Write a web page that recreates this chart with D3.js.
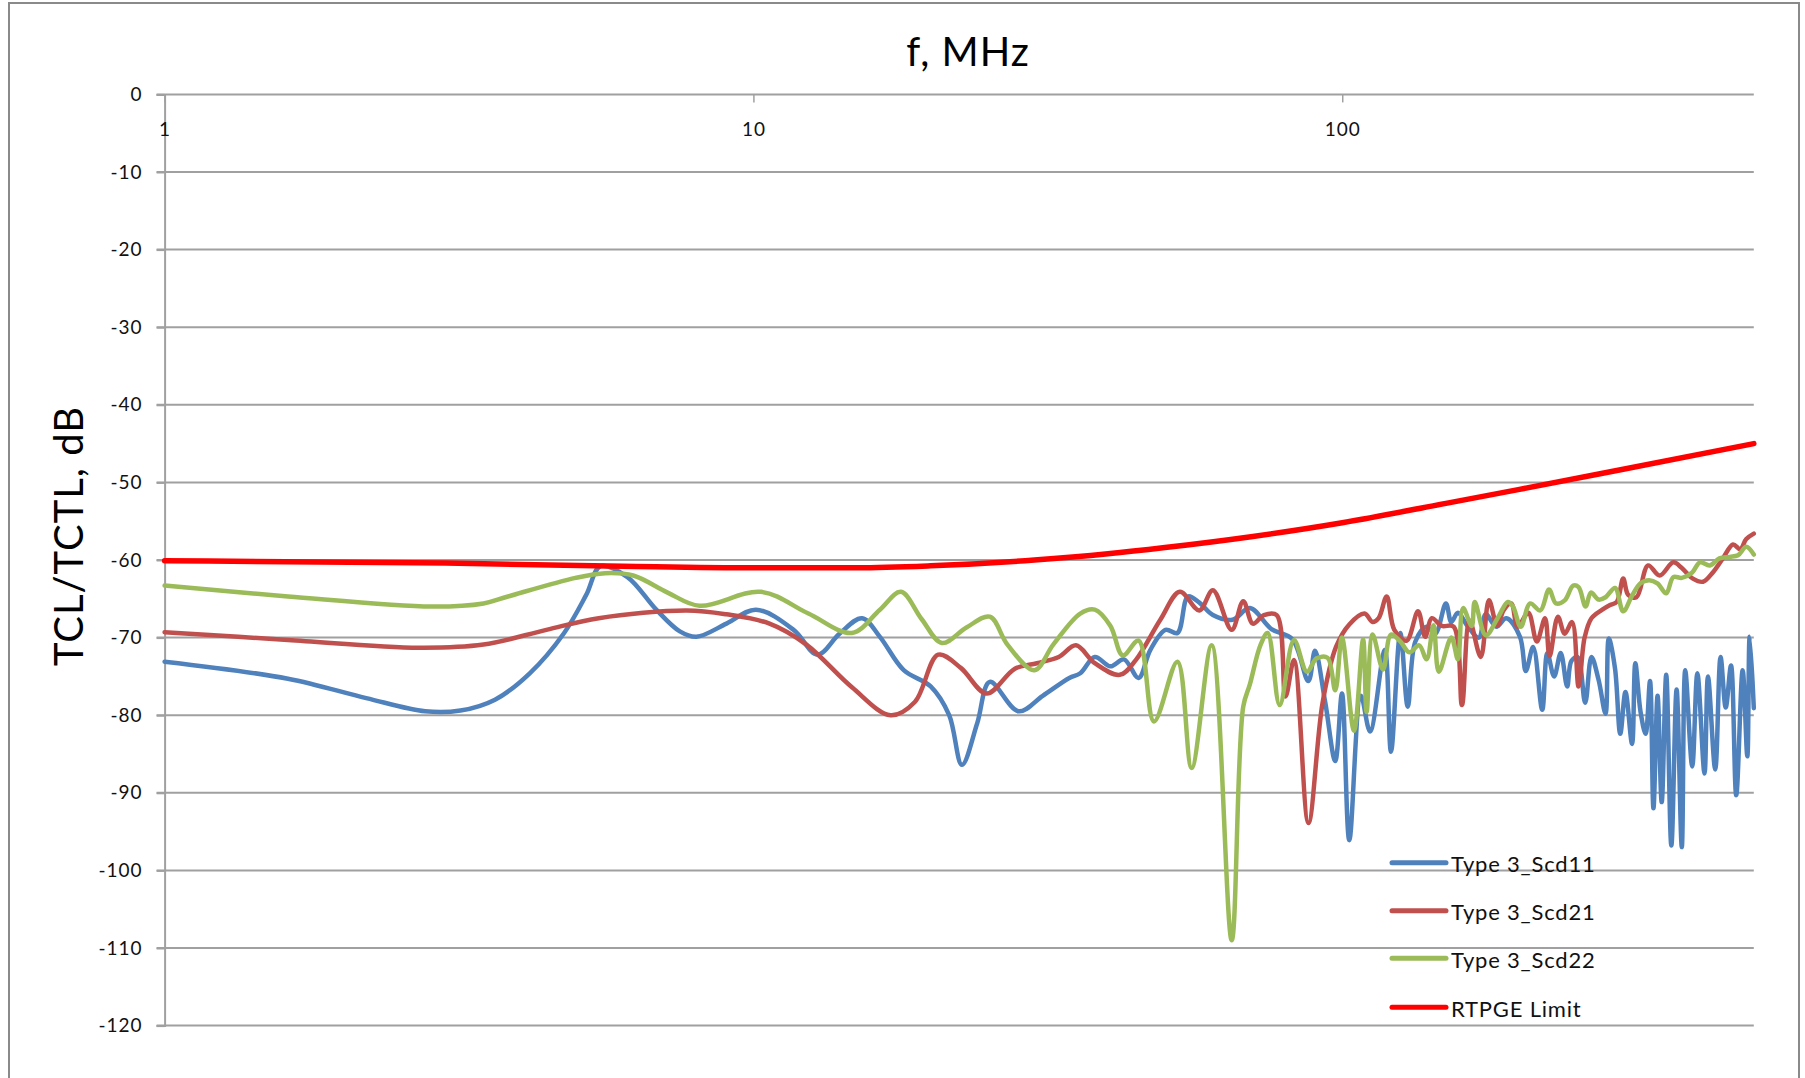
<!DOCTYPE html>
<html>
<head>
<meta charset="utf-8">
<script src="https://cdn.jsdelivr.net/npm/d3@7"></script>
<style>
  body { margin: 0; background: #fff; }
  svg { display: block; font-family: Lato, "Liberation Sans", sans-serif; }
</style>
</head>
<body>
<div id="wrapper"></div>
<script>
const width = 1805,
    height = 1078;

// frequency (MHz) and level (dB)
const scd11F = [1, 1.62, 2.2, 2.77, 3.18, 3.64, 4.17, 4.77, 5.2, 5.5, 6.11, 6.84, 7.5, 8.0, 9.0, 10.1, 11.7, 12.85, 14.0, 15.3, 16.4, 18.0, 20.0, 21.5, 22.6, 24.0, 25.2, 28.2, 31, 34.4, 35.9, 38.0, 40.4, 42.6, 45.1, 47.2, 50.1, 52.5, 54.7, 57.2, 60.3, 65.1, 69.7, 75.8, 82.3, 87.6, 89.9, 93.5, 97.3, 99.9, 102.8, 107.6, 111.5, 118.1, 121.0, 125.5, 129.2, 133.1, 139.1, 143.9, 150.0, 153.2, 157.2, 163.5, 170.6, 175.3, 182.6, 190.0, 200.4, 205, 211, 218.6, 223, 229, 235, 241, 245, 251, 258.6, 265, 272.6, 280, 283.6, 290.6, 296.6, 302.7, 310.6, 314.6, 321, 327.5, 333.2, 337.7, 343.2, 348.8, 355, 362.2, 369.7, 377.3, 382.4, 393, 401, 412.3, 418, 430, 439.1, 448, 457.4, 466.8, 478.7, 487.5, 492, 500];
const scd11 = [-73.1, -75.3, -77.8, -79.5, -79.4, -78, -74.6, -69.4, -64.5, -60.8, -62.2, -66.4, -69.2, -69.9, -68.2, -66.4, -69, -72.2, -69.5, -67.5, -69.9, -74.2, -76.3, -80, -86.4, -81, -75.7, -79.5, -77.5, -75.2, -74.6, -72.5, -73.7, -72.8, -75.2, -71.6, -69, -69.4, -64.7, -65.5, -67.1, -67.7, -66.2, -68.9, -70.2, -75.6, -71.7, -78.2, -85.9, -77.2, -96.1, -77.5, -82.1, -71.6, -84.7, -69.4, -78.9, -70.5, -68.6, -69.5, -65.6, -68, -66.8, -68.6, -70, -67, -68.6, -67.5, -69.9, -74.3, -71.2, -79.3, -72, -75, -72, -76.3, -73, -72.5, -78.4, -72.5, -75.5, -79.8, -70.1, -74, -82.4, -77, -83.7, -73.3, -79.5, -82.4, -75.6, -92, -77.5, -91.2, -74.8, -96.8, -76.7, -97.0, -74.2, -86.6, -74.6, -87.5, -75, -87, -72.5, -79, -73.6, -90.3, -74.2, -85.3, -69.9, -79.1];

const scd21F = [1, 1.62, 2.7, 3.48, 4.45, 5.46, 7.7, 9.0, 10.65, 12.3, 14.7, 17.1, 18.8, 20.6, 22.5, 24.9, 27.8, 30.3, 33, 35.3, 38.0, 41.9, 44.6, 49.1, 53.0, 57.2, 60.3, 64.9, 67.9, 70.5, 73.6, 77.4, 80.1, 82.8, 87.6, 92.6, 97.6, 102.8, 109.1, 112.6, 115.3, 119.0, 122.6, 128.6, 134.5, 138.3, 141.9, 147.6, 154.6, 159.7, 164.5, 171.9, 177.5, 183.4, 187.9, 193.6, 198.6, 207, 214, 221, 225, 232.4, 238.7, 245.7, 252, 258, 265, 276.5, 285, 292.6, 300, 306, 316, 330.7, 346, 365, 377, 394, 410, 426, 443, 461, 474, 485.5, 500];
const scd21 = [-69.3, -70.3, -71.3, -70.9, -69.0, -67.5, -66.5, -67, -68.2, -70.9, -76.4, -80, -78.3, -72.2, -73.9, -77.2, -74.0, -73.3, -72.5, -71.0, -73.3, -74.8, -72.9, -67.7, -64.1, -66.5, -63.9, -69, -65.3, -68.2, -67.1, -67.1, -77.6, -72.9, -93.9, -78.4, -71.2, -68.3, -66.9, -68, -67.5, -64.7, -69, -70.4, -66.6, -69.9, -67.5, -68.5, -68.6, -78.7, -67.8, -72.5, -65.2, -68.5, -66.5, -65.6, -68.6, -66.8, -70.5, -67.5, -72.4, -67.3, -69.5, -68, -76.3, -70, -67.5, -66.4, -65.8, -65.4, -62.4, -64.5, -64.8, -60.7, -62, -60.3, -61, -62.4, -62.8, -61.6, -59.8, -58.0, -58.6, -57.3, -56.6];

const scd22F = [1, 1.62, 2.84, 3.48, 3.83, 4.99, 5.6, 6.25, 7.15, 8.1, 10.3, 12.4, 14.7, 16.4, 17.8, 19.3, 20.9, 23.0, 25.2, 27.0, 30.0, 32.3, 35.9, 38.0, 40.4, 42.4, 45.1, 47.9, 52.5, 55.5, 60.0, 64.9, 67.9, 69.7, 72.6, 74.7, 78.3, 82.8, 87.1, 90.4, 94.4, 97.3, 99.9, 104.7, 108.5, 110, 112.6, 117.3, 121, 125.5, 130.0, 135.1, 139.1, 142.9, 145.9, 153.2, 157.2, 160.4, 165.9, 167.9, 175.3, 183.6, 191.1, 195, 201, 208.5, 217, 224.5, 230.7, 238.7, 246.7, 252, 259, 264.4, 272.6, 280, 290.6, 300, 310.6, 321, 332, 343, 355, 365, 377.3, 393, 405, 421, 437, 455, 470, 485.5, 500];
const scd22 = [-63.3, -64.7, -66.0, -65.6, -64.7, -62.3, -61.7, -62, -64.2, -65.9, -64.1, -66.9, -69.4, -66.4, -64.1, -67.6, -70.7, -68.7, -67.3, -70.9, -74.2, -70.9, -66.9, -66.4, -68.5, -72.3, -70.4, -80.8, -73.1, -86.8, -71, -109, -78.9, -76, -71, -69.4, -78.7, -70.3, -74.4, -72.7, -72.6, -76.8, -70, -82, -70.2, -79.6, -69.6, -74.1, -69.6, -70.5, -71.9, -71, -72.8, -68.4, -74.4, -70, -72.8, -66.2, -68.5, -65.4, -69.7, -67.5, -65.4, -66.0, -68.6, -65.6, -66.5, -63.8, -65.6, -65.2, -63.3, -63.5, -66.0, -64.2, -65.1, -64.8, -63.6, -66.6, -64.6, -63.0, -62.6, -63.0, -64.3, -62.2, -62.3, -61.6, -60.3, -60.7, -59.8, -59.6, -59.4, -58.3, -59.3];

const limitF = [1, 3, 6, 10, 15, 20, 30, 40, 50, 70, 100, 150, 200, 300, 500];
const limit = [-60.1, -60.4, -60.8, -61.0, -61.0, -60.75, -60.0, -59.2, -58.4, -57.0, -55.2, -52.7, -50.9, -48.3, -45.0];

const seriesNames = ["Type 3_Scd11", "Type 3_Scd21", "Type 3_Scd22", "RTPGE Limit"];
const colors = ["#4f81bd", "#c0504d", "#9bbb59", "#ff0000"];
const yTicks = d3.range(-120, 1, 10);
const xTicks = [1, 10, 100];

const series = [
    {f: scd11F, v: scd11},
    {f: scd21F, v: scd21},
    {f: scd22F, v: scd22},
    {f: limitF, v: limit}
].map((s, i) => ({name: seriesNames[i], color: colors[i], pts: s.f.map((f, j) => [f, s.v[j]])}));

const m = {left: 164.6, right: 1753.8, top: 94.4, bottom: 1025.6};

const x = d3.scaleLog().domain([1, 500]).range([m.left, m.right]);
const y = d3.scaleLinear().domain([-120, 0]).range([m.bottom, m.top]);

const svg = d3.select("#wrapper").append("svg")
    .attr("width", width)
    .attr("height", height);

svg.append("rect").attr("width", width).attr("height", height).attr("fill", "#fff");

// outer frame of the chart object
svg.append("rect")
    .attr("x", 9).attr("y", 3)
    .attr("width", 1790).attr("height", 1100)
    .attr("fill", "none")
    .attr("stroke", "#8a8a8a")
    .attr("stroke-width", 2);

// horizontal gridlines
svg.append("g")
    .selectAll("line")
    .data(yTicks)
    .enter().append("line")
    .attr("x1", m.left - 8)
    .attr("x2", m.right)
    .attr("y1", d => y(d))
    .attr("y2", d => y(d))
    .attr("stroke", "#a0a0a0")
    .attr("stroke-width", 2);

// y axis
const yAxis = svg.append("g")
    .attr("transform", "translate(" + m.left + ",0)")
    .call(d3.axisLeft(y).tickValues(yTicks).tickFormat(d => String(d)).tickSize(8).tickPadding(14));
yAxis.select(".domain").attr("stroke", "#a0a0a0").attr("stroke-width", 2);
yAxis.selectAll(".tick line").attr("stroke", "#a0a0a0").attr("stroke-width", 2);
yAxis.selectAll("text").attr("font-size", 19).attr("fill", "#111").attr("font-family", "Lato, sans-serif").style("letter-spacing", "1px");

// x axis sits on the 0 dB line, labels below it
const xAxis = svg.append("g")
    .attr("transform", "translate(0," + y(0) + ")")
    .call(d3.axisBottom(x).tickValues(xTicks).tickFormat(d3.format("d")).tickSize(8).tickPadding(20));
xAxis.select(".domain").remove();
xAxis.selectAll(".tick line").attr("stroke", "#a0a0a0").attr("stroke-width", 1.5);
xAxis.selectAll("text").attr("font-size", 19).attr("fill", "#111").attr("font-family", "Lato, sans-serif").style("letter-spacing", "1px");

// curves
const line = d3.line()
    .x(d => x(d[0]))
    .y(d => y(d[1]))
    .curve(d3.curveCatmullRom.alpha(0.5));

const limitLine = d3.line()
    .x(d => x(d[0]))
    .y(d => y(d[1]))
    .curve(d3.curveMonotoneX);

svg.append("g")
    .selectAll("path")
    .data(series)
    .enter().append("path")
    .attr("d", (d, i) => i === 3 ? limitLine(d.pts) : line(d.pts))
    .attr("fill", "none")
    .attr("stroke", d => d.color)
    .attr("stroke-width", (d, i) => i === 3 ? 5.5 : 4.5)
    .attr("stroke-linejoin", "round")
    .attr("stroke-linecap", "round");

// titles
svg.append("text")
    .attr("x", 968).attr("y", 66)
    .attr("text-anchor", "middle")
    .attr("font-size", 40)
    .style("letter-spacing", "1px")
    .attr("fill", "#000")
    .text("f, MHz");

svg.append("text")
    .attr("transform", "translate(83,536) rotate(-90)")
    .attr("text-anchor", "middle")
    .attr("font-size", 40)
    .style("letter-spacing", "1px")
    .attr("fill", "#000")
    .text("TCL/TCTL, dB");

// legend
const legY = [862.7, 910.7, 958.3, 1007.3];
const legend = svg.append("g")
    .selectAll("g")
    .data(series)
    .enter().append("g")
    .attr("transform", (d, i) => "translate(1392," + legY[i] + ")");

legend.append("line")
    .attr("x1", 0).attr("x2", 54)
    .attr("stroke", d => d.color)
    .attr("stroke-width", 5)
    .attr("stroke-linecap", "round");

legend.append("text")
    .attr("x", 59).attr("y", 1)
    .attr("dominant-baseline", "central")
    .attr("font-size", 22)
    .style("letter-spacing", "0.8px")
    .attr("fill", "#111")
    .text(d => d.name);
</script>
</body>
</html>
